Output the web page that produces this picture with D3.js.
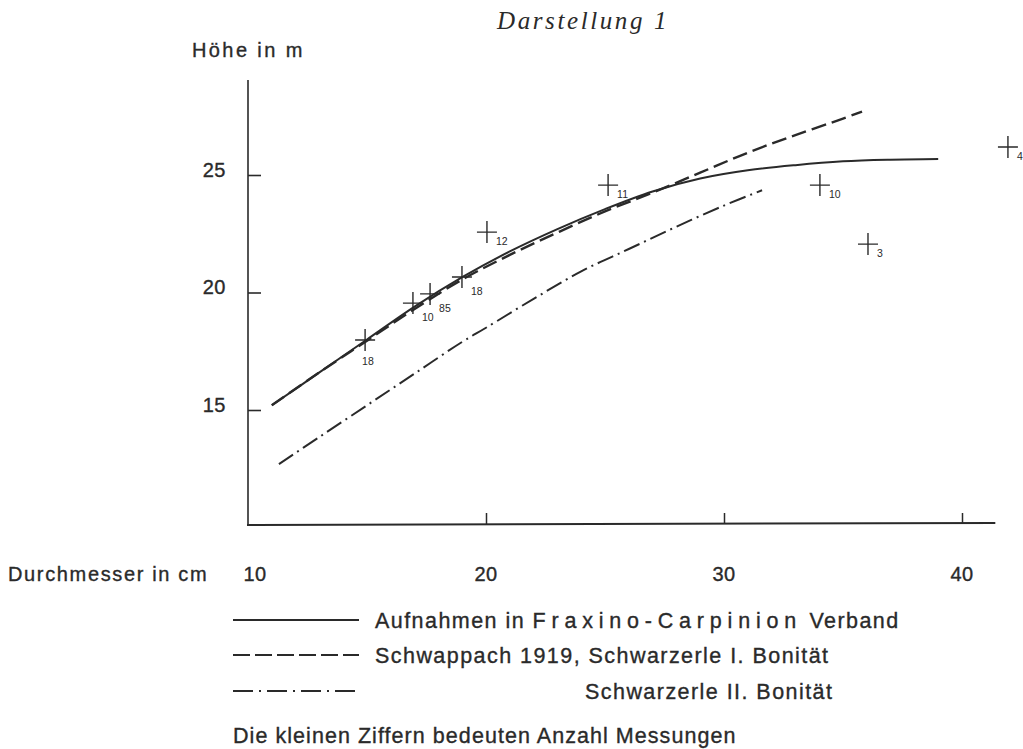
<!DOCTYPE html>
<html>
<head>
<meta charset="utf-8">
<script src="https://cdn.jsdelivr.net/npm/d3@7"></script>
<style>
  body { margin: 0; background: #fff; }
  svg text { fill: #2a2a2a; }
</style>
</head>
<body>
<svg id="chart" width="1023" height="749"></svg>
<script>
// Data: diameter in cm, height in m
const fraxinoCurve = [[11, 15.2], [13, 16.6], [15, 18.0], [17, 19.4], [19, 20.65], [21, 21.75],
  [23, 22.7], [25, 23.55], [27, 24.3], [29, 24.85], [31, 25.2], [33, 25.42], [35, 25.58], [37, 25.65], [39, 25.68]];
const schwappachI = [[11, 15.2], [13, 16.6], [15, 17.95], [17, 19.3], [19, 20.55], [21, 21.6],
  [23, 22.55], [25, 23.45], [27, 24.25], [29, 25.1], [31, 25.95], [33, 26.7], [35, 27.4], [35.8, 27.7]];
const schwarzerleII = [[11.3, 12.7], [13, 13.85], [15, 15.2], [17, 16.55], [19, 17.9], [20, 18.5],
  [22, 19.73], [24, 20.9], [26, 21.85], [28, 22.8], [30, 23.7], [31.6, 24.35]];
const measurements = [
  { d: 14.92, h: 17.98, n: "18" },
  { d: 16.93, h: 19.55, n: "10" },
  { d: 17.65, h: 19.94, n: "85" },
  { d: 18.99, h: 20.66, n: "18" },
  { d: 20.04, h: 22.57, n: "12" },
  { d: 25.13, h: 24.57, n: "11" },
  { d: 34.03, h: 24.57, n: "10" },
  { d: 36.05, h: 22.06, n: "3" },
  { d: 41.93, h: 26.19, n: "4" }
];
const xTicks = [10, 20, 30, 40];
const yTicks = [15, 20, 25];
const legendItems = [
  { label: "Aufnahmen in Fraxino-Carpinion Verband", style: "solid" },
  { label: "Schwappach 1919, Schwarzerle I. Bonität", style: "dash" },
  { label: "Schwarzerle II. Bonität", style: "dashdot" }
];

const ink = "#2a2a2a";
const sans = "'Liberation Sans', Arial, sans-serif";
const dashes = { solid: null, dash: "15,6", dashdot: "17,5,2,5" };
const widths = { solid: 2, dash: 2.4, dashdot: 2 };

const svg = d3.select("#chart");

const x = d3.scaleLinear().domain([10, 40]).range([248, 962]);
const y = d3.scaleLinear().domain([10, 25]).range([527.5, 175]);

// small helper for the printed sans labels
function label(sel, size, spacing) {
  return sel.attr("font-family", sans)
    .attr("font-size", size)
    .attr("letter-spacing", spacing)
    .attr("stroke", ink)
    .attr("stroke-width", 0.35);
}

// Title
svg.append("text")
  .attr("x", 497).attr("y", 29)
  .attr("font-family", "'Liberation Serif', 'DejaVu Serif', serif")
  .attr("font-style", "italic")
  .attr("font-size", 25)
  .attr("letter-spacing", 2.6)
  .text("Darstellung 1");

label(svg.append("text").attr("x", 192).attr("y", 57), 20, 2.4)
  .text("Höhe in m");

// Axes
svg.append("line")
  .attr("x1", x(10)).attr("x2", x(10))
  .attr("y1", 80).attr("y2", 526)
  .attr("stroke", ink).attr("stroke-width", 1.6);
svg.append("line")
  .attr("x1", x(10) - 1).attr("x2", x(41.4))
  .attr("y1", 525).attr("y2", 523)
  .attr("stroke", ink).attr("stroke-width", 2);

const xAxis = svg.append("g")
  .attr("transform", "translate(0,524)")
  .call(d3.axisBottom(x).tickValues(xTicks.slice(1)).tickSizeInner(-11).tickSizeOuter(0).tickFormat(""));
xAxis.select(".domain").remove();
xAxis.selectAll("line").attr("stroke", ink).attr("stroke-width", 1.5);

label(svg.selectAll(".xlab")
  .data(xTicks)
  .join("text")
  .attr("class", "xlab")
  .attr("x", d => x(d) + (d === 10 ? 7 : 0))
  .attr("y", 581)
  .attr("text-anchor", "middle"), 20, 0.5)
  .text(d => d);

label(svg.append("text").attr("x", 8).attr("y", 581), 20, 1.65)
  .text("Durchmesser in cm");

const yAxis = svg.append("g")
  .attr("transform", `translate(${x(10)},0)`)
  .call(d3.axisLeft(y).tickValues(yTicks).tickSizeInner(-13).tickSizeOuter(0).tickPadding(22));
yAxis.select(".domain").remove();
yAxis.selectAll("line").attr("stroke", ink).attr("stroke-width", 1.6);
label(yAxis.selectAll("text"), 20, 0.5)
  .attr("dy", "0.05em")
  .style("fill", ink);

// Curves
const line = d3.line()
  .x(d => x(d[0]))
  .y(d => y(d[1]))
  .curve(d3.curveCatmullRom);

const series = [
  { data: fraxinoCurve, style: "solid" },
  { data: schwappachI, style: "dash" },
  { data: schwarzerleII, style: "dashdot" }
];

svg.selectAll(".curve")
  .data(series)
  .join("path")
  .attr("class", "curve")
  .attr("d", d => line(d.data))
  .attr("fill", "none")
  .attr("stroke", ink)
  .attr("stroke-width", d => widths[d.style])
  .attr("stroke-dasharray", d => dashes[d.style]);

// Measurement crosses with counts
const marks = svg.selectAll(".mark")
  .data(measurements)
  .join("g")
  .attr("class", "mark")
  .attr("transform", d => `translate(${x(d.d)},${y(d.h)})`);

marks.append("path")
  .attr("d", "M-10,0H10M0,-11V11")
  .attr("stroke", ink)
  .attr("stroke-width", 1.4);

marks.append("text")
  .attr("x", (d, i) => i === 0 ? -3 : 9)
  .attr("y", (d, i) => i === 0 ? 25 : (i < 4 ? 18 : 13))
  .attr("font-family", sans)
  .attr("font-size", 10.5)
  .text(d => d.n);

// Legend
const legend = svg.selectAll(".legend")
  .data(legendItems)
  .join("g")
  .attr("class", "legend")
  .attr("transform", (d, i) => `translate(0,${[620, 655, 691][i]})`);

legend.append("line")
  .attr("x1", 233).attr("x2", 359)
  .attr("stroke", ink)
  .attr("stroke-width", 2)
  .attr("stroke-dasharray", d => d.style === "dash" ? "17,5" : d.style === "dashdot" ? "20,6,2,6" : null);

label(legend.append("text")
  .attr("x", (d, i) => i === 2 ? 585 : 375)
  .attr("y", 8), 21.5, 1.45)
  .each(function (d) {
    const t = d3.select(this);
    if (d.style === "solid") {
      t.append("tspan").text("Aufnahmen in ");
      t.append("tspan").attr("letter-spacing", 5.8).text("Fraxino-Carpinion");
      t.append("tspan").attr("letter-spacing", 1.45).text(" Verband");
    } else {
      t.text(d.label);
    }
  });

label(svg.append("text").attr("x", 233).attr("y", 743), 21.5, 1.05)
  .text("Die kleinen Ziffern bedeuten Anzahl Messungen");
</script>
</body>
</html>
